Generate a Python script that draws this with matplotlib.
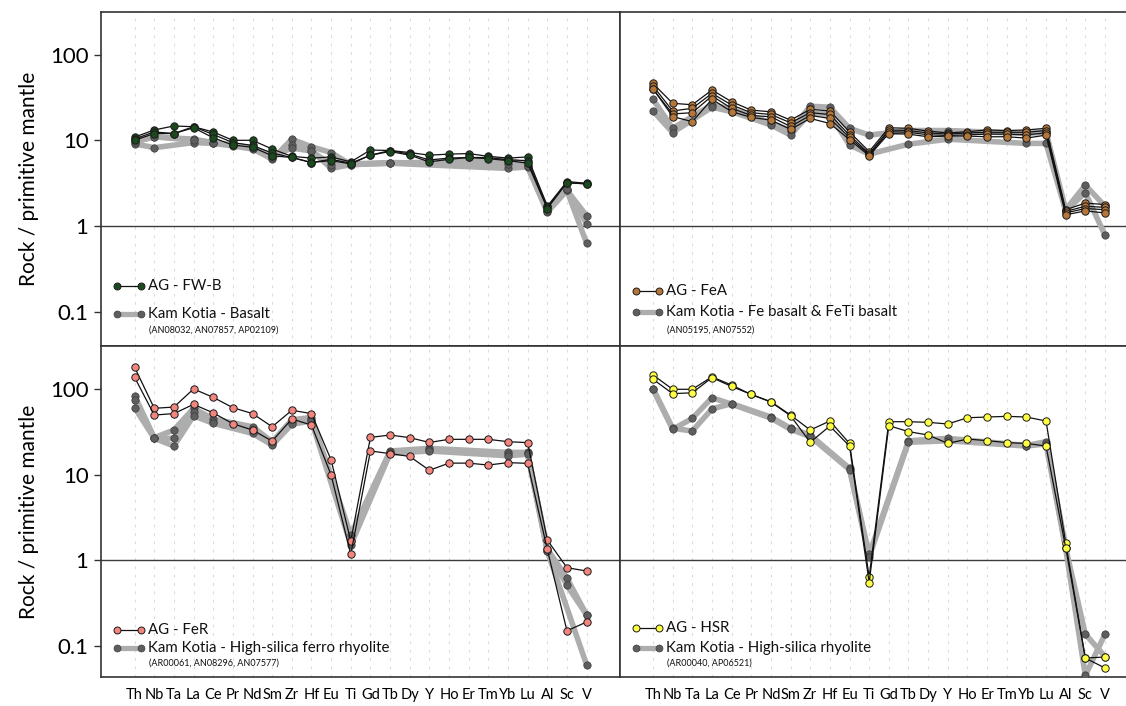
import numpy as np
import matplotlib
matplotlib.use("Agg")
import matplotlib.pyplot as plt

plt.rcParams['font.family'] = ['Lato', 'DejaVu Sans']

nan = np.nan

elements = ['Th', 'Nb', 'Ta', 'La', 'Ce', 'Pr', 'Nd', 'Sm', 'Zr', 'Hf', 'Eu', 'Ti',
            'Gd', 'Tb', 'Dy', 'Y', 'Ho', 'Er', 'Tm', 'Yb', 'Lu', 'Al', 'Sc', 'V']

# AG - FW-B
fwb_ag = [
    [10.9, 13.2, 14.7, 14.4, 12.5, 10.0, 10.0, 7.9, 6.5, 6.2, 6.4, 5.6, 7.7, 7.6, 7.2, 6.7, 6.9, 7.0, 6.5, 6.2, 6.4, 1.70, 3.3, 3.15],
    [10.4, 12.5, 12.0, 14.4, 11.7, 9.4, 8.7, 7.1, 6.3, 5.5, 6.0, 5.4, 6.7, 7.6, 6.9, 5.9, 6.2, 6.3, 6.3, 5.9, 5.8, 1.65, 3.2, 3.1],
    [10.0, 12.0, 12.0, 14.0, 10.7, 8.8, 8.3, 6.6, 6.3, 5.5, 5.8, 5.3, 6.7, 7.4, 6.7, 5.6, 6.0, 6.3, 6.1, 5.8, 5.4, 1.60, 3.2, 3.1],
]
fwb_kk = [
    [9.6, 11.0, nan, 10.3, 9.4, 8.8, 8.1, 6.0, 10.3, 8.4, 7.2, 5.2, nan, 5.4, nan, nan, nan, nan, nan, 5.9, 5.2, 1.5, 2.6, 1.32],
    [9.1, 8.2, nan, 9.4, 9.2, 8.6, 7.9, 6.2, 8.7, 7.6, 4.7, 5.2, nan, 5.4, nan, nan, nan, nan, nan, 4.7, 4.9, 1.45, 2.6, 0.63],
    [9.6, 11.0, nan, 10.0, 9.4, 8.8, 8.1, 6.5, 8.1, 7.5, 5.2, 5.3, nan, 5.5, nan, nan, nan, nan, nan, 5.3, 5.0, 1.5, 2.7, 1.06],
]

# AG - FeA
fea_ag = [
    [46, 27, 26, 38.6, 28.2, 22.5, 21.5, 17.2, 23, 22, 12.5, 7.4, 14.0, 13.8, 12.8, 12.2, 12.6, 13.2, 13.0, 13.2, 13.8, 1.55, 1.85, 1.78],
    [43, 22, 23.6, 35.3, 25.8, 21.0, 20.0, 16.0, 21, 20, 11.5, 7.0, 13.2, 13.0, 12.2, 11.8, 12.2, 12.4, 12.4, 12.4, 13.0, 1.48, 1.70, 1.65],
    [39.4, 20.3, 21, 32.9, 23.6, 19.5, 18.8, 14.5, 19.5, 18, 10.8, 6.8, 12.6, 12.4, 11.6, 11.4, 11.6, 11.8, 11.8, 11.6, 12.2, 1.42, 1.60, 1.55],
    [40, 18.9, 16.5, 30.1, 21.6, 18.5, 17.2, 13.4, 18, 15.7, 10.2, 6.6, 12.0, 11.8, 11.0, 11.2, 11.2, 11.0, 11.0, 10.6, 11.5, 1.35, 1.50, 1.42],
]
fea_kk = [
    [30, 13.8, nan, 26, 23, nan, 16, 13, 25, 24.3, 13.8, 11.5, nan, 13, nan, 13, nan, nan, nan, 12, 12.5, 1.55, 3.0, 1.7],
    [22, 12.3, nan, 24.3, 21.6, nan, 15.1, 11.5, 21, 20, 8.8, 6.9, nan, 9.0, nan, 10.3, nan, nan, nan, 9.2, 9.2, 1.5, 2.45, 0.78],
]

# AG - FeR
fer_ag = [
    [181, 60, 62, 101, 80.5, 61, 52, 36.5, 56.8, 52, 14.9, 1.68, 27.4, 29.2, 27.2, 23.9, 26, 26, 26, 24.4, 23.8, 1.73, 0.82, 0.75],
    [138, 50, 52, 66.7, 53, 39.6, 33.4, 24.8, 45, 38.2, 9.95, 1.17, 19, 17.7, 16.4, 11.3, 13.7, 13.7, 13, 13.9, 13.6, 1.34, 0.15, 0.19],
]
fer_kk = [
    [84, 27.2, 33.4, 60, 45, nan, 36.5, 24.4, 44, 46.8, nan, 1.98, nan, 19, nan, 20.4, nan, nan, nan, 18.3, 18.3, 1.36, 0.62, 0.23],
    [75, 26.7, 26.7, 55, 41.8, nan, 33, 23, 42, 44, nan, 1.7, nan, 18.5, nan, 19.5, nan, nan, nan, 17.5, 17.8, 1.3, 0.51, 0.23],
    [61, 26.7, 21.7, 49, 40, nan, 30.5, 22.3, 39, 42.6, nan, 1.51, nan, 17.8, nan, 19, nan, nan, nan, 16.7, 17.4, 1.28, nan, 0.06],
]

# AG - HSR
hsr_ag = [
    [147, 100, 100, 140, 112, 87, 71.6, 50, 33.4, 42.6, 23.3, 0.64, 41.8, 41.8, 41.1, 39.3, 46.5, 47.4, 48.3, 47.4, 42.6, 1.61, 0.072, 0.074],
    [131, 89, 91, 137, 108, 87, 71, 49, 24, 37.2, 21.7, 0.55, 37.6, 32, 29.2, 23.3, 26.2, 25.1, 23.8, 23.3, 21.7, 1.41, 0.072, 0.055],
]
hsr_kk = [
    [102, 35, 32.5, 59, 68, nan, 47.4, 35, 29.2, nan, 11.9, 1.17, nan, 25, nan, 26.7, nan, nan, nan, 22, 24.4, 1.4, 0.137, 0.075],
    [100, 34, 45.7, 79.8, 67, nan, 46, 34, 28, nan, 11.5, 1.1, nan, 24, nan, 25, nan, nan, nan, 21.7, 23, 1.38, 0.045, 0.137],
]

ag_labels = ['AG - FW-B', 'AG - FeA', 'AG - FeR', 'AG - HSR']
kk_labels = ['Kam Kotia - Basalt', 'Kam Kotia - Fe basalt & FeTi basalt',
             'Kam Kotia - High-silica ferro rhyolite', 'Kam Kotia - High-silica rhyolite']
kk_ids = ['(AN08032, AN07857, AP02109)', '(AN05195, AN07552)',
          '(AR00061, AN08296, AN07577)', '(AR00040, AP06521)']
colors = ['#1b4a1f', '#b5763a', '#f2857c', '#ffff44']

W, H = 1126, 706
fig = plt.figure(figsize=(W / 100, H / 100), dpi=100)

# panel boxes in pixels: left, top, right, bottom
boxes = [(101, 12, 620, 346), (620, 12, 1126, 346),
         (101, 346, 620, 677), (620, 346, 1126, 677)]
xlims = [(-1.71, 24.70), (-1.68, 24.07), (-1.71, 24.70), (-1.68, 24.07)]
ylims = [(0.0398, 314), (0.0398, 314), (0.0432, 321), (0.0432, 321)]
# legend rows (axes fraction): AG row, KK row, ids row
key_y = [(0.1805, 0.095, 0.048), (0.1656, 0.101, 0.048),
         (0.142, 0.0867, 0.0432), (0.149, 0.0867, 0.0432)]

ag_sets = [fwb_ag, fea_ag, fer_ag, hsr_ag]
kk_sets = [fwb_kk, fea_kk, fer_kk, hsr_kk]

x = np.arange(len(elements))

for i in range(4):
    l, t, r, b = boxes[i]
    ax = fig.add_axes([l / W, 1 - b / H, (r - l) / W, (b - t) / H])
    ax.set_yscale('log')
    ax.set_xlim(*xlims[i])
    ax.set_ylim(*ylims[i])

    for xi in x:
        ax.axvline(xi, color='#dcdcdc', lw=0.8, ls=(0, (2.5, 5)), zorder=0)
    ax.axhline(1, color='#3c3c3c', lw=1.0, zorder=1)

    for s in kk_sets[i]:
        v = np.array(s, dtype=float)
        m = np.isfinite(v)
        ax.plot(x[m], v[m], color='#adadad', lw=4.0, solid_capstyle='round',
                solid_joinstyle='round', zorder=2)
    for s in kk_sets[i]:
        v = np.array(s, dtype=float)
        m = np.isfinite(v)
        ax.plot(x[m], v[m], ls='none', marker='o', ms=5.3, mfc='#5e5e5e',
                mec='#3d3d3d', mew=0.5, zorder=3)
    for s in ag_sets[i]:
        v = np.array(s, dtype=float)
        m = np.isfinite(v)
        ax.plot(x[m], v[m], color='#111111', lw=0.9, marker='o', ms=5.3,
                mfc=colors[i], mec='#1a1a1a', mew=0.7, zorder=4)

    # key
    ya, yk, yid = key_y[i]
    ax.plot([0.031, 0.077], [ya, ya], transform=ax.transAxes, color='#111111',
            lw=0.9, marker='o', ms=5, mfc=colors[i], mec='#1a1a1a', mew=0.7)
    ax.plot([0.031, 0.077], [yk, yk], transform=ax.transAxes, color='#adadad',
            lw=3.8, solid_capstyle='round')
    ax.plot([0.031, 0.077], [yk, yk], transform=ax.transAxes, ls='none',
            marker='o', ms=5, mfc='#5e5e5e', mec='#3d3d3d', mew=0.5)
    ax.text(0.091, ya, ag_labels[i], transform=ax.transAxes, fontsize=10.8,
            va='center', ha='left', color='#111111')
    ax.text(0.091, yk, kk_labels[i], transform=ax.transAxes, fontsize=10.8,
            va='center', ha='left', color='#111111')
    ax.text(0.093, yid, kk_ids[i], transform=ax.transAxes, fontsize=6.5,
            va='center', ha='left', color='#111111')

    for sp in ax.spines.values():
        sp.set_color('#333333')
        sp.set_linewidth(1.2)
    if i in (1, 3):
        ax.spines['right'].set_visible(False)

    ax.minorticks_off()
    if i in (0, 2):
        ax.set_yticks([0.1, 1, 10, 100])
        ax.set_yticklabels(['0.1', '1', '10', '100'])
        ax.tick_params(axis='y', length=5, width=1, color='#333333',
                       labelsize=16, pad=4)
        ax.set_ylabel('Rock / primitive mantle', fontsize=15, labelpad=8)
    else:
        ax.set_yticks([])

    ax.set_xticks(x)
    if i in (2, 3):
        ax.set_xticklabels(elements, fontsize=10.5)
        ax.tick_params(axis='x', length=0, pad=8)
    else:
        ax.set_xticklabels([])
        ax.tick_params(axis='x', length=0)

fig.savefig('out.png', dpi=100)
